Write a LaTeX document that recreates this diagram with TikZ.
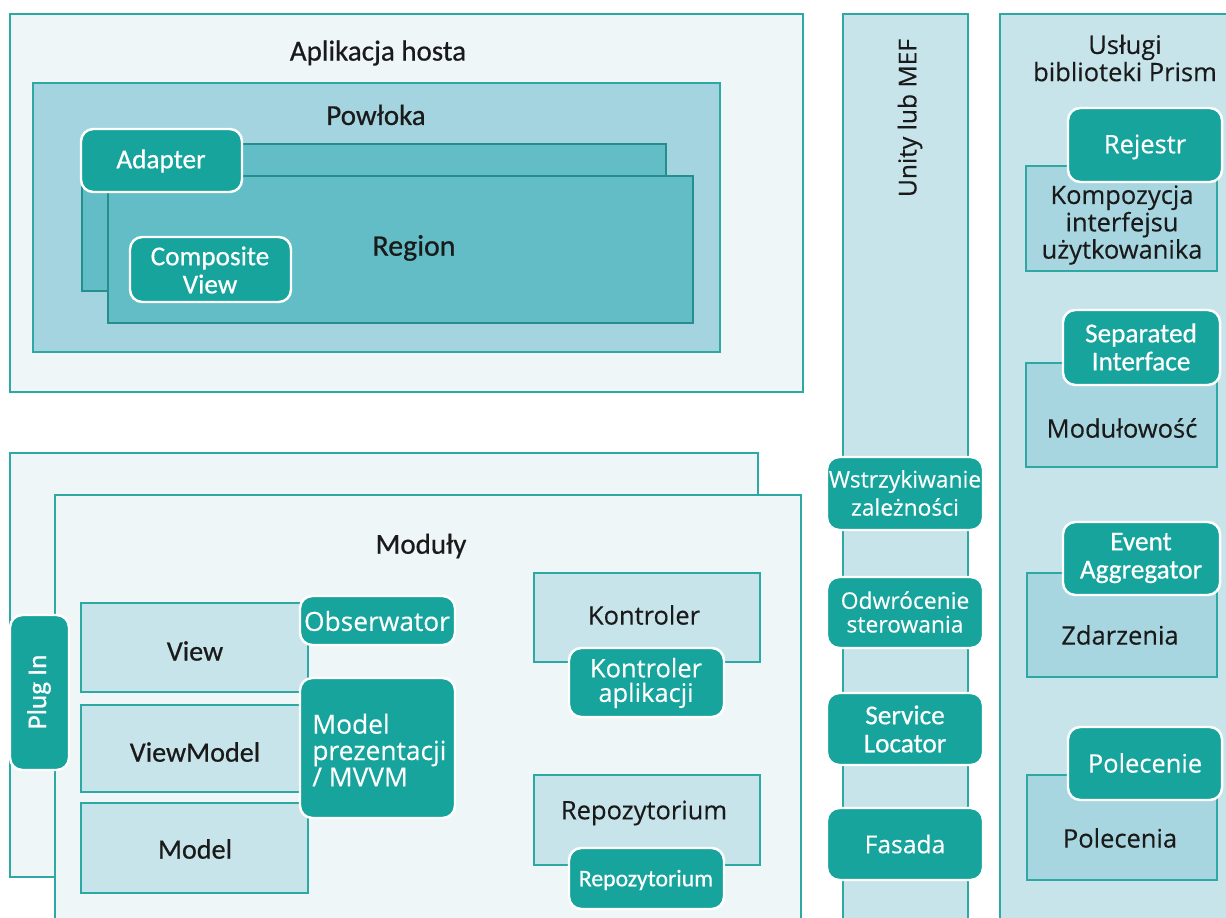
\documentclass[tikz,border=0pt]{standalone}
\usepackage{fontspec}
\setmainfont{Carlito}
\newfontfamily\twfont[FakeBold=0.6]{Carlito}
\newfontfamily\opensans[FakeBold=0.3]{Open Sans}
\definecolor{tealline}{HTML}{2EA8A3}
\definecolor{palefill}{HTML}{EEF6F8}
\definecolor{shellfill}{HTML}{A3D4DF}
\definecolor{regionfill}{HTML}{62BDC6}
\definecolor{darkfill}{HTML}{17A49D}
\definecolor{lightfill}{HTML}{C8E4EB}
\definecolor{midfill}{HTML}{A8D6E0}
\definecolor{inkblack}{HTML}{1A1A1A}
\tikzset{
	hostframe/.style={draw=tealline, line width=1.4pt, fill=palefill},
	shellframe/.style={draw=tealline, line width=1.4pt, fill=shellfill},
	regionlayer/.style={draw=tealline!85!black, line width=1.4pt, fill=regionfill},
	lightbox/.style={draw=tealline, line width=1.4pt, fill=lightfill},
	midbox/.style={draw=tealline, line width=1.4pt, fill=midfill},
	tealbox/.style={draw=white, line width=1.4pt, fill=darkfill, rounded corners=7pt},
	twlabel/.style={font=\twfont\fontsize{16}{17}\selectfont, text=inkblack, align=center, inner sep=0pt},
	twwhite/.style={twlabel, text=white, font=\twfont\fontsize{15.5}{16}\selectfont},
	oslabel/.style={font=\opensans\fontsize{14.5}{13}\selectfont, text=inkblack, align=center, inner sep=0pt},
	oswhite/.style={oslabel, text=white},
}

\begin{document}
\begin{tikzpicture}[x=0.02cm, y=-0.02cm]
			%%%%% START %%%%%
			\fill[white] (0, 0) rectangle (1226, 918);
			\useasboundingbox (0, 0) rectangle (1226, 918);
			
			% host application
			\draw[hostframe] (10, 14) rectangle (803, 392);
			\node[twlabel, font=\twfont\fontsize{16.5}{17}\selectfont] (host) at (378, 53) {Aplikacja hosta};
			\draw[shellframe] (33, 83) rectangle (720, 352);
			\node[twlabel, font=\twfont\fontsize{16.5}{17}\selectfont] (shell) at (376, 115) {Powłoka};
			\draw[regionlayer] (82, 144) rectangle (666, 291);
			\draw[regionlayer] (108, 176) rectangle (693, 323);
			\node[twlabel, font=\twfont\fontsize{17}{17}\selectfont] (region) at (414, 248) {Region};
			\draw[tealbox] (81, 129) rectangle (242, 192);
			\node[twwhite] (adapter) at (161, 161) {Adapter};
			\draw[tealbox] (130, 237) rectangle (291, 302);
			\node[twwhite] (composite) at (210, 270) {Composite\\View};
			
			% modules
			\draw[hostframe] (10, 453) rectangle (758, 877);
			\draw[hostframe] (55, 495) rectangle (801, 930);
			\node[twlabel, font=\twfont\fontsize{16.5}{17}\selectfont] (modules) at (421, 546) {Moduły};
			\draw[tealbox] (10, 615) rectangle (69, 770);
			\node[twwhite] (plugin) [rotate=90] at (39, 692) {Plug In};
			
			\draw[lightbox] (81, 603) rectangle (308, 692);
			\node[twlabel] (view) at (195, 651) {View};
			\draw[lightbox] (81, 705) rectangle (308, 792);
			\node[twlabel] (viewmodel) at (195, 752) {ViewModel};
			\draw[lightbox] (81, 803) rectangle (308, 893);
			\node[twlabel] (model) at (195, 849) {Model};
			
			\draw[tealbox] (300, 596) rectangle (455, 645);
			\node[oswhite, font=\opensans\fontsize{15}{15}\selectfont] (observer) at (377, 621) {Obserwator};
			\draw[tealbox] (300, 678) rectangle (455, 818);
			\node[oswhite, font=\opensans\fontsize{15}{15}\selectfont, align=left, anchor=west] (mvvm) at (312, 750) {Model\\prezentacji\\/ MVVM};
			
			\draw[lightbox] (534, 573) rectangle (760, 662);
			\node[oslabel] (controller) at (644, 615) {Kontroler};
			\draw[tealbox] (569, 648) rectangle (724, 717);
			\node[oswhite, font=\opensans\fontsize{14.5}{14}\selectfont] (appcontroller) at (646, 683) {Kontroler\\aplikacji};
			
			\draw[lightbox] (534, 775) rectangle (760, 865);
			\node[oslabel] (repo) at (644, 813) {Repozytorium};
			\draw[tealbox] (569, 848) rectangle (724, 909);
			\node[twwhite, font=\twfont\fontsize{13.5}{14}\selectfont] (repobox) at (646, 880) {Repozytorium};
			
			% container column
			\draw[lightbox] (843, 14) rectangle (968, 930);
			\node[oslabel, font=\opensans\fontsize{14}{14}\selectfont] (unity) [rotate=90] at (910, 118) {Unity lub MEF};
			\draw[tealbox] (827, 457) rectangle (983, 530);
			\node[oswhite, font=\opensans\fontsize{13}{16}\selectfont] (injection) at (905, 493) {Wstrzykiwanie\\zależności};
			\draw[tealbox] (827, 577) rectangle (983, 648);
			\node[oswhite, font=\opensans\fontsize{13}{13.5}\selectfont] (inversion) at (905, 612) {Odwrócenie\\sterowania};
			\draw[tealbox] (827, 693) rectangle (983, 765);
			\node[twwhite] (locator) at (905, 729) {Service\\Locator};
			\draw[tealbox] (827, 808) rectangle (983, 880);
			\node[oswhite, font=\opensans\fontsize{14}{14}\selectfont] (facade) at (905, 844) {Fasada};
			
			% prism services
			\draw[lightbox] (1000, 14) rectangle (1235, 930);
			\node[oslabel, font=\opensans\fontsize{14.5}{11.5}\selectfont] (prism) at (1125, 58) {Usługi\\biblioteki Prism};
			
			\draw[midbox] (1026, 166) rectangle (1217, 271);
			\node[oslabel, font=\opensans\fontsize{14.5}{12.5}\selectfont] (uicomp) at (1122, 225) {Kompozycja\\interfejsu\\użytkowanika};
			\draw[tealbox] (1068, 108) rectangle (1222, 182);
			\node[oswhite] (registry) at (1145, 147) {Rejestr};
			
			\draw[midbox] (1026, 363) rectangle (1217, 467);
			\node[oslabel] (modularity) at (1122, 428) {Modułowość};
			\draw[tealbox] (1063, 310) rectangle (1220, 385);
			\node[twwhite] (separated) at (1141, 347) {Separated\\Interface};
			
			\draw[midbox] (1027, 573) rectangle (1217, 677);
			\node[oslabel] (events) at (1120, 635) {Zdarzenia};
			\draw[tealbox] (1063, 522) rectangle (1220, 595);
			\node[twwhite] (aggregator) at (1141, 558) {Event\\Aggregator};
			
			\draw[midbox] (1027, 775) rectangle (1217, 880);
			\node[oslabel] (commands) at (1120, 838) {Polecenia};
			\draw[tealbox] (1068, 727) rectangle (1222, 800);
			\node[oswhite] (command) at (1145, 763) {Polecenie};
			%%%%% END %%%%%
\end{tikzpicture}
\end{document}
